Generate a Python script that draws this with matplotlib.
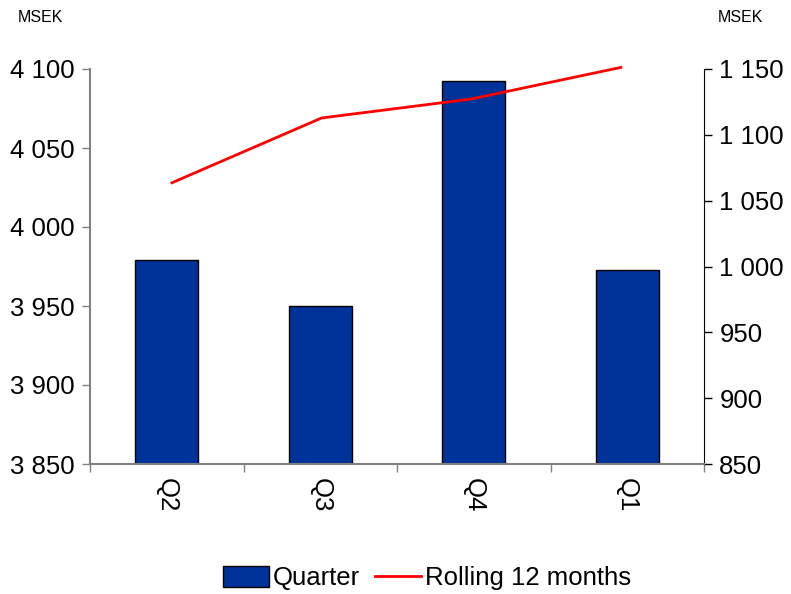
import matplotlib.pyplot as plt
from matplotlib.ticker import FuncFormatter, MultipleLocator
from matplotlib.patches import Patch
from matplotlib.lines import Line2D

plt.rcParams['font.family'] = ['Liberation Sans', 'DejaVu Sans']

quarters = ['Q2', 'Q3', 'Q4', 'Q1']
quarter_sales = [1005, 970, 1141, 997]        # right axis, MSEK
rolling_12m = [4028, 4069, 4081, 4101]        # left axis, MSEK

bar_color = '#003399'
line_color = '#ff0000'
grey = '#808080'
fs = 18.5

def space_thousands(v, pos):
    return f"{v:,.0f}".replace(",", " ")

fig = plt.figure(figsize=(7.91, 5.94), dpi=100)
rect = [90 / 791, 1 - 464 / 594, 614 / 791, 395 / 594]

# bars on the right-hand scale
ax_bar = fig.add_axes(rect)
x = range(len(quarters))
ax_bar.bar(x, quarter_sales, width=0.41, color=bar_color, edgecolor='black', linewidth=1.0)
ax_bar.set_xlim(-0.5, len(quarters) - 0.5)
ax_bar.set_ylim(850, 1150)
ax_bar.yaxis.tick_right()
ax_bar.yaxis.set_major_locator(MultipleLocator(50))
ax_bar.yaxis.set_major_formatter(FuncFormatter(space_thousands))
ax_bar.tick_params(axis='y', direction='out', length=6, width=1, color='black',
                   labelsize=fs, pad=5)
ax_bar.set_xticks(list(x))
ax_bar.set_xticklabels(quarters, rotation=270, fontsize=fs)
ax_bar.tick_params(axis='x', which='major', length=0, pad=10)
ax_bar.set_xticks([i + 0.5 for i in range(-1, len(quarters))], minor=True)
ax_bar.tick_params(axis='x', which='minor', direction='out', length=6, width=1, color=grey)
for s in ['top', 'left']:
    ax_bar.spines[s].set_visible(False)
ax_bar.spines['right'].set_color('black')
ax_bar.spines['bottom'].set_color(grey)
ax_bar.spines['bottom'].set_linewidth(1.5)

# rolling line on the left-hand scale, drawn on top
ax_line = fig.add_axes(rect)
ax_line.patch.set_visible(False)
ax_line.plot(range(len(rolling_12m)), rolling_12m, color=line_color, linewidth=2.0,
             clip_on=False)
ax_line.set_xlim(-0.548, 3.556)
ax_line.set_ylim(3850, 4100)
ax_line.yaxis.set_major_locator(MultipleLocator(50))
ax_line.yaxis.set_major_formatter(FuncFormatter(space_thousands))
ax_line.tick_params(axis='y', direction='out', length=6, width=1, color=grey,
                    labelsize=fs, pad=5)
ax_line.set_xticks([])
for s in ['top', 'right', 'bottom']:
    ax_line.spines[s].set_visible(False)
ax_line.spines['left'].set_color(grey)
ax_line.spines['left'].set_linewidth(1.5)

fig.text(18 / 791, 1 - 18 / 594, 'MSEK', fontsize=11.5, va='center', ha='left')
fig.text(718 / 791, 1 - 18 / 594, 'MSEK', fontsize=11.5, va='center', ha='left')

handles = [Patch(facecolor=bar_color, edgecolor='black', linewidth=1.0),
           Line2D([0], [0], color=line_color, linewidth=2.0)]
fig.legend(handles, ['Quarter', 'Rolling 12 months'], loc='center',
           bbox_to_anchor=(427 / 791, 1 - 578 / 594), ncol=2, frameon=False,
           fontsize=fs, handlelength=1.8, handleheight=0.9, handletextpad=0.15,
           columnspacing=0.6)

fig.savefig('out.png', dpi=100)
